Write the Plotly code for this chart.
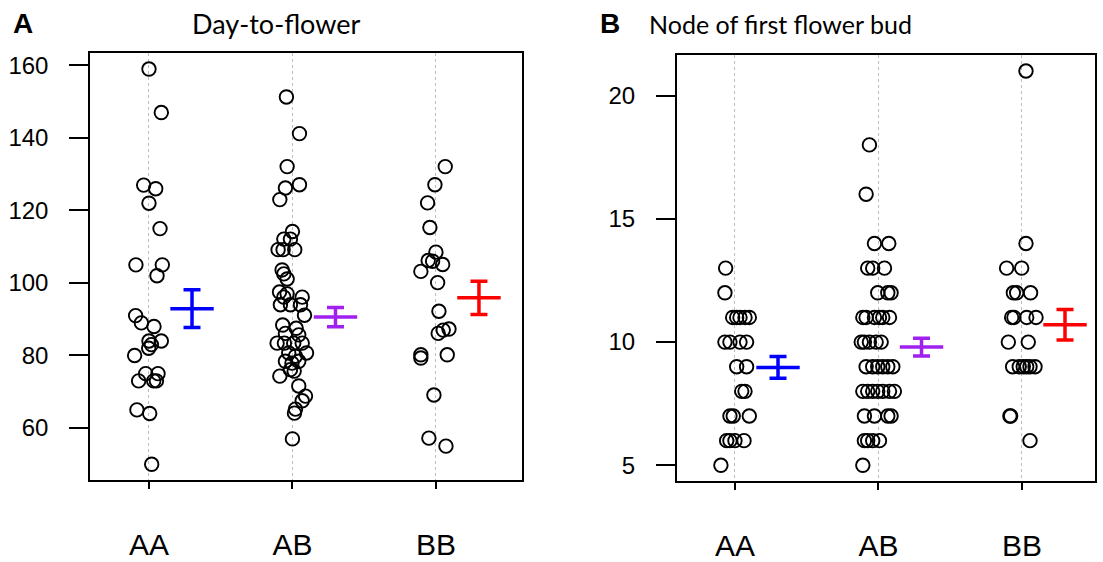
import plotly.graph_objects as go

W, H = 1103, 562

groups = ["AA", "AB", "BB"]
group_pos = [1, 2, 3]
colors = ["#0000FF", "#A020F0", "#FF0000"]

# ---- Panel A: Day-to-flower ----
dtf_AA = [159, 147, 127, 126, 122, 115, 105, 105, 102, 91, 89, 88, 84, 84, 83, 82, 80, 75, 75, 73, 73, 73, 65, 64, 50]
dtf_AA_jit = [0.0, 0.086, -0.037, 0.047, 0.0, 0.077, -0.091, 0.093, 0.056, -0.093, -0.053, 0.035, 0.086, 0.0, 0.017, -0.002,
              -0.10, -0.023, 0.063, -0.072, 0.033, 0.052, -0.084, 0.005, 0.019]
dtf_AB = [151.3, 141.2, 132.1, 127.1, 126.2, 123, 114.2, 112.1, 112.1, 109.2, 109.2, 109.2, 103.6, 102.5, 101.1, 97.5, 97.0,
          96.1, 96.1, 94, 94, 94, 91.1, 88.4, 87.5, 86.1, 85.7, 83.4, 83.4, 83.4, 83.4, 80.7, 80.7, 79.8, 78.4, 77.9, 78.4,
          76.1, 75.7, 74.3, 71.6, 68.8, 67.5, 65.2, 64.1, 57]
dtf_AB_jit = [-0.042, 0.049, -0.037, 0.049, -0.049, -0.088, 0.0, -0.06, -0.014, -0.10, -0.065, 0.016, -0.072, -0.06, -0.037,
              -0.09, -0.037, 0.068, -0.06, -0.084, -0.014, 0.056, 0.084, -0.068, 0.026, -0.049, 0.044, -0.107, -0.056, 0.009,
              0.068, 0.098, -0.026, 0.021, -0.049, -0.003, 0.044, -0.014, 0.012, -0.088, 0.044, 0.091, 0.068, 0.021, 0.014, 0.0]
dtf_BB = [132.1, 127.1, 122.1, 115.3, 108.5, 106.2, 106.0, 105.1, 103.2, 100.1, 92.2, 86.1, 87.0, 87.3, 80.2, 79.3, 80.2,
          69.1, 57.2, 55.0]
dtf_BB_jit = [0.065, -0.007, -0.058, -0.042, 0.0, -0.054, -0.023, 0.047, -0.105, 0.012, 0.021, 0.016, 0.051, 0.091, -0.105,
              -0.105, 0.079, -0.014, -0.049, 0.07]
dtf_mean = [92.9, 90.6, 95.9]
dtf_se = [5.2, 2.65, 4.6]

# ---- Panel B: Node of first flower bud ----
node_AA = [13, 12, 11, 11, 11, 11, 11, 10, 10, 10, 10, 9, 9, 8, 8, 7, 7, 7, 6, 6, 6, 6, 5]
node_AA_jit = [-0.065, -0.07, -0.016, 0.012, 0.035, 0.07, 0.10, -0.07, -0.035, 0.035, 0.081, 0.012, 0.081, 0.047, 0.07,
               -0.035, -0.012, 0.10, -0.058, -0.035, 0.0, 0.063, -0.098]
node_AB = [18, 16, 14, 14, 13, 13, 13, 12, 12, 12, 11, 11, 11, 11, 11, 11, 10, 10, 10, 10, 10, 9, 9, 9, 9, 9, 9,
           8, 8, 8, 8, 8, 8, 8, 7, 7, 7, 7, 6, 6, 6, 6, 5]
node_AB_jit = [-0.063, -0.086, -0.028, 0.072, -0.075, -0.04, 0.042, -0.005, 0.065, 0.088, -0.109, -0.086, -0.028, 0.007,
               0.03, 0.077, -0.12, -0.098, -0.063, -0.016, 0.019, -0.086, -0.04, -0.005, 0.03, 0.065, 0.10, -0.109, -0.075,
               -0.04, -0.005, 0.03, 0.077, 0.111, -0.098, -0.028, 0.065, 0.088, -0.098, -0.075, -0.04, 0.007, -0.109]
node_BB = [21, 14, 13, 13, 12, 12, 12, 11, 11, 11, 11, 10, 10, 9, 9, 9, 9, 9, 9, 7, 7, 6]
node_BB_jit = [0.028, 0.028, -0.107, -0.002, -0.06, -0.037, 0.06, -0.072, -0.056, 0.033, 0.098, -0.095, 0.044, -0.065,
               -0.019, 0.009, 0.033, 0.056, 0.091, -0.084, -0.079, 0.056]
node_mean = [8.97, 9.8, 10.7]
node_se = [0.44, 0.36, 0.62]

panels = [
    dict(xa="x", ya="y", vals=[dtf_AA, dtf_AB, dtf_BB], jit=[dtf_AA_jit, dtf_AB_jit, dtf_BB_jit], mean=dtf_mean, se=dtf_se),
    dict(xa="x2", ya="y2", vals=[node_AA, node_AB, node_BB], jit=[node_AA_jit, node_AB_jit, node_BB_jit], mean=node_mean, se=node_se),
]

fig = go.Figure()
bar_offset = 0.3
for p in panels:
    for gi in range(3):
        xs = [group_pos[gi] + j for j in p["jit"][gi]]
        fig.add_trace(go.Scatter(
            x=xs, y=p["vals"][gi], mode="markers", xaxis=p["xa"], yaxis=p["ya"],
            marker=dict(symbol="circle", size=13.5, color="rgba(0,0,0,0)", line=dict(color="black", width=1.9)),
            showlegend=False, hoverinfo="y"))
    for gi in range(3):
        fig.add_trace(go.Scatter(
            x=[group_pos[gi] + bar_offset], y=[p["mean"][gi]], mode="markers", xaxis=p["xa"], yaxis=p["ya"],
            marker=dict(symbol="line-ew-open", size=31, color=colors[gi], line=dict(color=colors[gi], width=3.5)),
            error_y=dict(type="data", array=[p["se"][gi]], color=colors[gi], thickness=3.5, width=8.5),
            showlegend=False, hoverinfo="y"))


def px(x):
    return x / W


def py(y):
    return 1 - y / H


axis_font = "Liberation Sans, Arial, sans-serif"
title_font = "Lato, Open Sans, sans-serif"
common_x = dict(tickvals=group_pos, ticktext=groups, ticks="outside", ticklen=7, tickwidth=1.5, tickcolor="black",
                showline=True, mirror=True, linecolor="black", linewidth=1.5, showgrid=True, gridcolor="#BDBDBD",
                griddash="dot", gridwidth=1, zeroline=False, tickfont=dict(size=30, family=axis_font, color="black"),
                ticklabelstandoff=30, fixedrange=True)
common_y = dict(ticks="outside", ticklen=19, tickwidth=1.5, tickcolor="black", showline=True, mirror=True,
                linecolor="black", linewidth=1.5, showgrid=False, zeroline=False,
                tickfont=dict(size=24, family=axis_font, color="black"), ticklabelstandoff=16, fixedrange=True)

fig.update_layout(
    width=W, height=H, margin=dict(l=0, r=0, t=0, b=0),
    paper_bgcolor="white", plot_bgcolor="white",
    xaxis=dict(domain=[px(90), px(522)], range=[0.589, 3.60], anchor="y", **common_x),
    yaxis=dict(domain=[py(486), py(53)], range=[45.64, 163.36], tickvals=[60, 80, 100, 120, 140, 160],
               anchor="x", **common_y),
    xaxis2=dict(domain=[px(676.7), px(1095)], range=[0.594, 3.509], anchor="y2", **common_x),
    yaxis2=dict(domain=[py(487), py(55)], range=[4.36, 21.64], tickvals=[5, 10, 15, 20],
                anchor="x2", **common_y),
    annotations=[
        dict(text="Day-to-flower", x=px(276), y=py(23), xref="paper", yref="paper", showarrow=False,
             font=dict(size=27, family=title_font, color="black"), xanchor="center", yanchor="middle"),
        dict(text="Node of first flower bud", x=px(780), y=py(23), xref="paper", yref="paper", showarrow=False,
             font=dict(size=25, family=title_font, color="black"), xanchor="center", yanchor="middle"),
        dict(text="<b>A</b>", x=px(23), y=py(23), xref="paper", yref="paper", showarrow=False,
             font=dict(size=28, family=axis_font, color="black"), xanchor="center", yanchor="middle"),
        dict(text="<b>B</b>", x=px(610), y=py(23), xref="paper", yref="paper", showarrow=False,
             font=dict(size=28, family=axis_font, color="black"), xanchor="center", yanchor="middle"),
    ],
)

# remove the browser's default 8px body margin so the 1103x562 figure fills the window exactly
fig.write_html("out.html", config={"displayModeBar": False},
               post_script="document.body.style.margin='0';")
